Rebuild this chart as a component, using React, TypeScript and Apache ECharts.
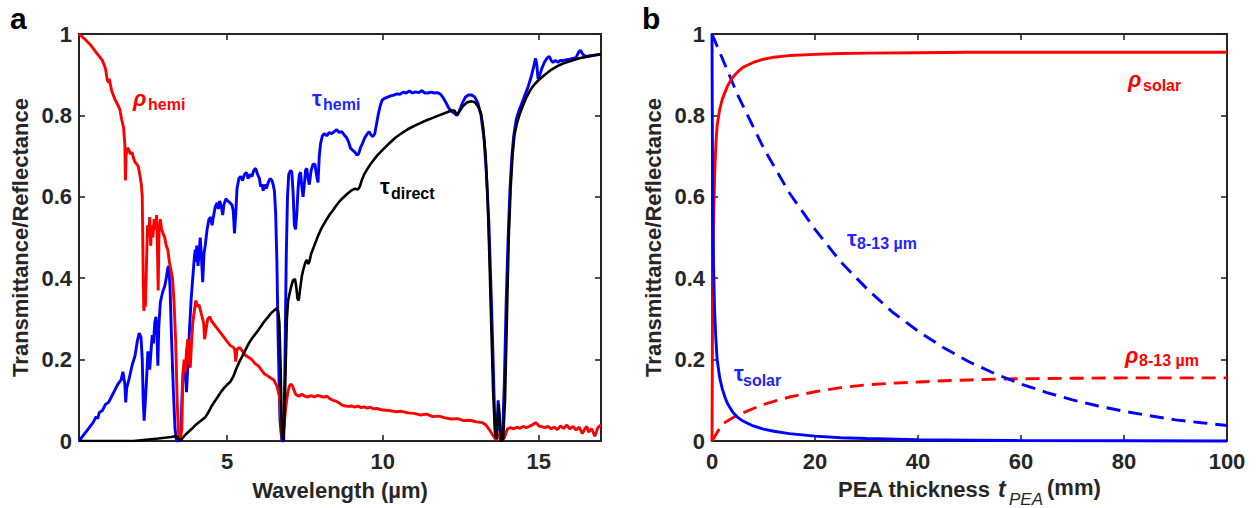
import React, { useEffect, useRef } from "react";
import * as echarts from "echarts";

// ---------- Panel a: spectra (wavelength µm, value) ----------
const wlTicks = [5, 10, 15];
const yTicks = [0, 0.2, 0.4, 0.6, 0.8, 1];
const thickTicks = [0, 20, 40, 60, 80, 100];

const rhoHemi: [number, number][] = [
  [0.25, 1.0], [0.4, 0.99], [0.6, 0.975], [0.8, 0.955], [0.9, 0.945], [0.95, 0.94], [1.0, 0.935],
  [1.1, 0.915], [1.15, 0.89], [1.2, 0.88], [1.22, 0.89], [1.3, 0.86], [1.4, 0.84], [1.5, 0.825],
  [1.56, 0.815], [1.62, 0.79], [1.68, 0.77], [1.72, 0.73], [1.74, 0.64], [1.76, 0.7], [1.8, 0.72],
  [1.85, 0.715], [1.9, 0.705], [1.95, 0.71], [2.0, 0.695], [2.05, 0.685], [2.1, 0.68], [2.15, 0.675],
  [2.2, 0.655], [2.25, 0.63], [2.28, 0.6], [2.31, 0.4], [2.33, 0.32], [2.36, 0.34], [2.38, 0.33],
  [2.42, 0.45], [2.45, 0.53], [2.48, 0.5], [2.52, 0.55], [2.55, 0.48], [2.58, 0.53], [2.62, 0.5],
  [2.66, 0.545], [2.7, 0.52], [2.74, 0.555], [2.77, 0.46], [2.79, 0.37], [2.82, 0.52], [2.86, 0.545],
  [2.9, 0.52], [2.95, 0.51], [3.0, 0.5], [3.05, 0.48], [3.1, 0.47], [3.15, 0.44], [3.2, 0.42],
  [3.25, 0.4], [3.3, 0.34], [3.35, 0.25], [3.4, 0.1], [3.44, 0.02], [3.5, 0.005], [3.55, 0.03],
  [3.58, 0.15], [3.62, 0.2], [3.66, 0.17], [3.7, 0.22], [3.74, 0.25], [3.78, 0.2], [3.82, 0.18],
  [3.86, 0.24], [3.9, 0.29], [3.95, 0.32], [4.0, 0.345], [4.05, 0.33], [4.1, 0.335], [4.15, 0.32],
  [4.2, 0.305], [4.25, 0.29], [4.28, 0.25], [4.32, 0.27], [4.38, 0.3], [4.45, 0.305], [4.5, 0.295],
  [4.6, 0.285], [4.7, 0.275], [4.8, 0.265], [4.9, 0.255], [5.0, 0.245], [5.1, 0.235], [5.2, 0.23],
  [5.25, 0.225], [5.28, 0.195], [5.32, 0.225], [5.4, 0.23], [5.5, 0.22], [5.6, 0.21], [5.7, 0.205],
  [5.8, 0.2], [5.9, 0.19], [6.0, 0.185], [6.1, 0.175], [6.2, 0.165], [6.3, 0.16], [6.4, 0.155],
  [6.5, 0.15], [6.6, 0.135], [6.68, 0.11], [6.74, 0.04], [6.78, 0.0], [6.82, 0.03], [6.88, 0.08],
  [6.95, 0.12], [7.0, 0.135], [7.05, 0.14], [7.1, 0.135], [7.15, 0.125], [7.2, 0.115], [7.3, 0.11],
  [7.4, 0.115], [7.5, 0.11], [7.6, 0.108], [7.7, 0.112], [7.8, 0.108], [7.9, 0.112], [8.0, 0.11],
  [8.1, 0.108], [8.2, 0.11], [8.3, 0.104], [8.4, 0.1], [8.5, 0.098], [8.6, 0.093], [8.7, 0.088],
  [8.8, 0.086], [8.9, 0.085], [9.0, 0.086], [9.1, 0.083], [9.2, 0.086], [9.3, 0.082], [9.4, 0.084],
  [9.5, 0.081], [9.6, 0.083], [9.7, 0.079], [9.8, 0.08], [9.9, 0.078], [10.0, 0.076], [10.2, 0.075],
  [10.4, 0.072], [10.6, 0.073], [10.8, 0.069], [11.0, 0.068], [11.2, 0.064], [11.4, 0.066],
  [11.6, 0.06], [11.8, 0.061], [12.0, 0.057], [12.2, 0.054], [12.4, 0.055], [12.6, 0.05],
  [12.8, 0.051], [13.0, 0.047], [13.2, 0.045], [13.3, 0.04], [13.4, 0.03], [13.5, 0.018],
  [13.6, 0.006], [13.65, 0.004], [13.7, 0.012], [13.75, 0.02], [13.8, 0.012], [13.85, 0.004],
  [13.9, 0.008], [13.95, 0.02], [14.0, 0.03], [14.1, 0.033], [14.2, 0.03], [14.3, 0.034],
  [14.4, 0.031], [14.5, 0.036], [14.6, 0.033], [14.7, 0.036], [14.8, 0.04], [14.9, 0.045],
  [14.95, 0.042], [15.0, 0.037], [15.1, 0.035], [15.2, 0.033], [15.3, 0.036], [15.4, 0.03],
  [15.5, 0.034], [15.6, 0.028], [15.7, 0.037], [15.8, 0.031], [15.9, 0.039], [16.0, 0.03],
  [16.1, 0.036], [16.2, 0.027], [16.3, 0.034], [16.4, 0.018], [16.5, 0.032], [16.55, 0.035],
  [16.6, 0.022], [16.7, 0.03], [16.8, 0.012], [16.85, 0.022], [16.9, 0.033], [17.0, 0.04],
];

const tauHemi: [number, number][] = [
  [0.25, 0], [0.4, 0.015], [0.55, 0.03], [0.7, 0.045], [0.8, 0.06], [0.85, 0.055], [0.9, 0.07],
  [1.0, 0.075], [1.1, 0.09], [1.2, 0.095], [1.3, 0.11], [1.4, 0.125], [1.5, 0.14], [1.6, 0.15],
  [1.66, 0.17], [1.72, 0.14], [1.75, 0.095], [1.78, 0.13], [1.85, 0.15], [1.95, 0.185], [2.05, 0.21],
  [2.12, 0.245], [2.18, 0.265], [2.24, 0.255], [2.28, 0.2], [2.31, 0.1], [2.34, 0.05], [2.38, 0.1],
  [2.42, 0.155], [2.46, 0.22], [2.5, 0.21], [2.52, 0.175], [2.56, 0.22], [2.6, 0.26], [2.64, 0.24],
  [2.68, 0.29], [2.72, 0.305], [2.75, 0.27], [2.78, 0.185], [2.81, 0.28], [2.86, 0.34], [2.9, 0.355],
  [2.95, 0.37], [3.0, 0.38], [3.05, 0.4], [3.1, 0.425], [3.13, 0.43], [3.17, 0.38], [3.22, 0.25],
  [3.28, 0.12], [3.33, 0.03], [3.38, 0.0], [3.46, 0.0], [3.52, 0.02], [3.56, 0.12], [3.6, 0.18],
  [3.65, 0.19], [3.7, 0.12], [3.75, 0.2], [3.8, 0.28], [3.85, 0.35], [3.9, 0.4], [3.95, 0.45],
  [3.98, 0.47], [4.0, 0.44], [4.03, 0.48], [4.07, 0.43], [4.1, 0.46], [4.14, 0.5], [4.18, 0.45],
  [4.22, 0.39], [4.26, 0.46], [4.3, 0.48], [4.36, 0.52], [4.42, 0.545], [4.48, 0.55], [4.52, 0.53],
  [4.56, 0.55], [4.62, 0.575], [4.68, 0.585], [4.72, 0.57], [4.76, 0.59], [4.82, 0.575],
  [4.86, 0.555], [4.9, 0.58], [4.96, 0.595], [5.02, 0.59], [5.1, 0.585], [5.16, 0.58], [5.2, 0.565],
  [5.24, 0.51], [5.28, 0.56], [5.32, 0.62], [5.38, 0.645], [5.44, 0.65], [5.5, 0.64], [5.56, 0.655],
  [5.62, 0.66], [5.68, 0.645], [5.74, 0.655], [5.8, 0.65], [5.86, 0.665], [5.92, 0.67], [5.98, 0.655],
  [6.04, 0.645], [6.08, 0.625], [6.12, 0.63], [6.16, 0.615], [6.2, 0.63], [6.26, 0.62], [6.32, 0.635],
  [6.38, 0.645], [6.44, 0.64], [6.48, 0.63], [6.52, 0.615], [6.56, 0.56], [6.6, 0.44], [6.64, 0.25],
  [6.7, 0.05], [6.76, 0.0], [6.82, 0.0], [6.86, 0.2], [6.9, 0.45], [6.94, 0.6], [6.98, 0.655],
  [7.04, 0.665], [7.08, 0.66], [7.12, 0.61], [7.16, 0.53], [7.2, 0.52], [7.24, 0.56], [7.28, 0.62],
  [7.32, 0.655], [7.36, 0.66], [7.4, 0.625], [7.44, 0.6], [7.48, 0.63], [7.52, 0.665], [7.56, 0.67],
  [7.6, 0.645], [7.64, 0.63], [7.7, 0.665], [7.76, 0.68], [7.82, 0.68], [7.88, 0.65], [7.92, 0.635],
  [7.96, 0.7], [8.0, 0.73], [8.06, 0.75], [8.12, 0.755], [8.2, 0.75], [8.28, 0.758], [8.36, 0.755],
  [8.44, 0.76], [8.52, 0.765], [8.6, 0.758], [8.68, 0.76], [8.76, 0.752], [8.84, 0.745], [8.9, 0.735],
  [8.96, 0.72], [9.02, 0.715], [9.1, 0.71], [9.16, 0.703], [9.22, 0.705], [9.28, 0.72], [9.34, 0.73],
  [9.42, 0.745], [9.5, 0.755], [9.56, 0.76], [9.62, 0.752], [9.68, 0.748], [9.74, 0.755], [9.8, 0.78],
  [9.86, 0.805], [9.92, 0.825], [9.98, 0.838], [10.06, 0.842], [10.15, 0.845], [10.25, 0.848],
  [10.35, 0.85], [10.45, 0.853], [10.55, 0.852], [10.65, 0.857], [10.75, 0.855], [10.85, 0.86],
  [10.95, 0.855], [11.05, 0.858], [11.15, 0.856], [11.25, 0.861], [11.35, 0.855], [11.45, 0.855],
  [11.55, 0.857], [11.65, 0.855], [11.75, 0.856], [11.85, 0.852], [11.92, 0.845], [12.0, 0.835],
  [12.1, 0.82], [12.2, 0.81], [12.3, 0.805], [12.38, 0.8], [12.45, 0.81], [12.55, 0.83], [12.65, 0.845],
  [12.75, 0.85], [12.85, 0.85], [12.95, 0.845], [13.05, 0.83], [13.15, 0.8], [13.25, 0.74], [13.32, 0.66],
  [13.4, 0.54], [13.46, 0.4], [13.52, 0.25], [13.58, 0.08], [13.62, 0.01], [13.66, 0.03], [13.7, 0.1],
  [13.74, 0.04], [13.78, 0.0], [13.84, 0.01], [13.9, 0.15], [13.96, 0.35], [14.02, 0.5], [14.08, 0.62],
  [14.14, 0.7], [14.2, 0.75], [14.28, 0.79], [14.36, 0.81], [14.46, 0.83], [14.56, 0.85], [14.66, 0.87],
  [14.76, 0.895], [14.84, 0.92], [14.9, 0.94], [14.94, 0.925], [14.98, 0.89], [15.04, 0.9], [15.1, 0.915],
  [15.18, 0.93], [15.26, 0.94], [15.34, 0.945], [15.4, 0.935], [15.46, 0.93], [15.54, 0.935],
  [15.62, 0.93], [15.7, 0.935], [15.8, 0.935], [15.9, 0.937], [16.0, 0.938], [16.1, 0.94], [16.2, 0.942],
  [16.28, 0.955], [16.34, 0.96], [16.4, 0.952], [16.48, 0.945], [16.6, 0.946], [16.8, 0.948], [17.0, 0.95],
];

const tauDirect: [number, number][] = [
  [0.25, 0], [2.0, 0], [2.4, 0.003], [2.8, 0.006], [3.2, 0.01], [3.38, 0.012], [3.46, 0.004],
  [3.52, 0.002], [3.6, 0.01], [3.7, 0.018], [3.8, 0.025], [3.9, 0.032], [4.0, 0.04], [4.1, 0.046],
  [4.2, 0.052], [4.3, 0.058], [4.4, 0.07], [4.5, 0.085], [4.6, 0.097], [4.7, 0.108], [4.8, 0.12],
  [4.9, 0.13], [5.0, 0.138], [5.1, 0.145], [5.2, 0.158], [5.3, 0.178], [5.4, 0.195], [5.5, 0.21],
  [5.6, 0.225], [5.7, 0.24], [5.8, 0.252], [5.9, 0.262], [6.0, 0.272], [6.1, 0.283], [6.2, 0.294],
  [6.3, 0.303], [6.4, 0.313], [6.5, 0.32], [6.58, 0.326], [6.64, 0.32], [6.68, 0.29], [6.72, 0.18],
  [6.76, 0.02], [6.8, 0.0], [6.84, 0.05], [6.88, 0.18], [6.92, 0.3], [6.96, 0.345], [7.0, 0.36],
  [7.06, 0.38], [7.12, 0.395], [7.18, 0.398], [7.22, 0.38], [7.26, 0.35], [7.3, 0.345], [7.34, 0.37],
  [7.4, 0.405], [7.46, 0.425], [7.52, 0.44], [7.56, 0.445], [7.6, 0.435], [7.64, 0.44], [7.7, 0.46],
  [7.8, 0.48], [7.9, 0.5], [8.0, 0.518], [8.1, 0.532], [8.2, 0.545], [8.3, 0.557], [8.4, 0.567],
  [8.5, 0.578], [8.6, 0.588], [8.7, 0.596], [8.8, 0.603], [8.9, 0.61], [9.0, 0.616], [9.1, 0.62],
  [9.2, 0.618], [9.26, 0.625], [9.32, 0.64], [9.4, 0.655], [9.5, 0.668], [9.6, 0.68], [9.7, 0.69],
  [9.8, 0.7], [9.9, 0.708], [10.0, 0.716], [10.2, 0.731], [10.4, 0.745], [10.6, 0.756], [10.8, 0.766],
  [11.0, 0.774], [11.2, 0.781], [11.4, 0.788], [11.6, 0.794], [11.8, 0.8], [12.0, 0.806], [12.2, 0.812],
  [12.3, 0.812], [12.38, 0.8], [12.46, 0.81], [12.56, 0.822], [12.7, 0.832], [12.85, 0.835],
  [12.95, 0.832], [13.05, 0.823], [13.15, 0.805], [13.22, 0.77], [13.3, 0.7], [13.36, 0.6], [13.42, 0.45],
  [13.48, 0.28], [13.54, 0.12], [13.6, 0.02], [13.64, 0.005], [13.68, 0.05], [13.72, 0.09], [13.76, 0.04],
  [13.8, 0.0], [13.86, 0.005], [13.92, 0.1], [13.98, 0.3], [14.04, 0.5], [14.1, 0.62], [14.16, 0.7],
  [14.22, 0.75], [14.3, 0.78], [14.4, 0.805], [14.5, 0.825], [14.6, 0.843], [14.7, 0.858], [14.8, 0.87],
  [14.9, 0.879], [15.0, 0.887], [15.2, 0.9], [15.4, 0.912], [15.6, 0.921], [15.8, 0.928], [16.0, 0.933],
  [16.2, 0.938], [16.4, 0.942], [16.6, 0.945], [16.8, 0.948], [17.0, 0.951],
];

// ---------- Panel b: vs PEA thickness (mm) ----------
const rhoSolar: [number, number][] = [
  [0, 0], [0.1, 0.3], [0.25, 0.5], [0.5, 0.65], [0.75, 0.73], [1, 0.775], [1.5, 0.815], [2, 0.84],
  [3, 0.872], [4, 0.893], [5, 0.907], [6, 0.918], [8, 0.93], [10, 0.938], [12, 0.943], [15, 0.947],
  [20, 0.95], [25, 0.952], [30, 0.953], [40, 0.954], [50, 0.955], [60, 0.955], [80, 0.955], [100, 0.955],
];
const tauSolar: [number, number][] = [
  [0, 1], [0.05, 0.82], [0.1, 0.68], [0.2, 0.52], [0.3, 0.43], [0.5, 0.32], [0.75, 0.25], [1, 0.2],
  [1.5, 0.155], [2, 0.128], [2.5, 0.108], [3, 0.092], [4, 0.071], [5, 0.058], [6, 0.049], [8, 0.037],
  [10, 0.029], [12, 0.024], [15, 0.018], [20, 0.012], [25, 0.008], [30, 0.006], [40, 0.003],
  [50, 0.002], [60, 0.001], [80, 0.0005], [100, 0],
];
const tau813: [number, number][] = [
  [0, 1], [5, 0.85], [10, 0.72], [15, 0.61], [20, 0.52], [25, 0.44], [30, 0.375], [35, 0.317],
  [40, 0.27], [45, 0.229], [50, 0.194], [55, 0.165], [60, 0.14], [65, 0.119], [70, 0.101],
  [75, 0.086], [80, 0.073], [85, 0.062], [90, 0.052], [95, 0.045], [100, 0.038],
];
const rho813: [number, number][] = [
  [0, 0], [2, 0.042], [5, 0.064], [10, 0.09], [15, 0.108], [20, 0.121], [25, 0.131], [30, 0.138],
  [35, 0.142], [40, 0.145], [45, 0.148], [50, 0.15], [55, 0.152], [60, 0.153], [70, 0.154],
  [80, 0.155], [90, 0.155], [100, 0.155],
];

const RED = "#ff0000";
const BLUE = "#0000ff";
const LBLUE = "#2424ff";
const AX = "#262626";
const FONT = "'Liberation Sans', Arial, Helvetica, sans-serif";

function boxAxis(gridIndex: number, pos: string, extra: any) {
  return {
    type: "value",
    gridIndex,
    position: pos,
    axisLine: { show: true, onZero: false, lineStyle: { color: AX, width: 2 } },
    axisTick: { show: true, inside: true, length: 6, lineStyle: { color: AX, width: 1.6 } },
    splitLine: { show: false },
    axisLabel: { show: false },
    ...extra,
  };
}

const labelStyle = { fontFamily: FONT, fontSize: 22, fontWeight: "bold", color: AX };

function txt(x: number, y: number, text: string, size: number, color: string, opts: any = {}) {
  return {
    type: "text",
    x,
    y,
    silent: true,
    style: {
      text,
      fill: color,
      fontFamily: FONT,
      fontSize: size,
      fontWeight: "bold",
      align: "left",
      verticalAlign: "middle",
      ...opts,
    },
  };
}

export default function App() {
  const ref = useRef<HTMLDivElement>(null);
  useEffect(() => {
    if (!ref.current) return;
    const chart = echarts.init(ref.current, undefined, { renderer: "svg" });
    const option: any = {
      animation: false,
      backgroundColor: "#ffffff",
      grid: [
        { left: 79, top: 34, width: 522, height: 407 },
        { left: 712, top: 34, width: 515, height: 407 },
      ],
      xAxis: [
        boxAxis(0, "bottom", {
          min: 0.25,
          max: 17,
          axisTick: { show: true, inside: true, length: 6, customValues: wlTicks, lineStyle: { color: AX, width: 1.6 } },
          axisLabel: { show: true, customValues: wlTicks, margin: 9, ...labelStyle },
          name: "Wavelength (µm)",
          nameLocation: "middle",
          nameGap: 38,
          nameTextStyle: { ...labelStyle },
        }),
        boxAxis(0, "top", {
          min: 0.25,
          max: 17,
          axisTick: { show: true, inside: true, length: 6, customValues: wlTicks, lineStyle: { color: AX, width: 1.6 } },
        }),
        boxAxis(1, "bottom", {
          min: 0,
          max: 100,
          interval: 20,
          axisLabel: {
            show: true,
            margin: 9,
            customValues: thickTicks,
            ...labelStyle,
          },
        }),
        boxAxis(1, "top", { min: 0, max: 100, interval: 20 }),
      ],
      yAxis: [
        boxAxis(0, "left", {
          min: 0,
          max: 1,
          interval: 0.2,
          axisLabel: { show: true, margin: 7, customValues: yTicks, ...labelStyle },
          name: "Transmittance/Reflectance",
          nameLocation: "middle",
          nameGap: 48,
          nameTextStyle: { ...labelStyle },
        }),
        boxAxis(0, "right", { min: 0, max: 1, interval: 0.2 }),
        boxAxis(1, "left", {
          min: 0,
          max: 1,
          interval: 0.2,
          axisLabel: { show: true, margin: 7, customValues: yTicks, ...labelStyle },
          name: "Transmittance/Reflectance",
          nameLocation: "middle",
          nameGap: 48,
          nameTextStyle: { ...labelStyle },
        }),
        boxAxis(1, "right", { min: 0, max: 1, interval: 0.2 }),
      ],
      series: [
        {
          type: "line", xAxisIndex: 0, yAxisIndex: 0, data: tauHemi, showSymbol: false, symbol: "none",
          lineStyle: { color: BLUE, width: 2.9 }, clip: true,
        },
        {
          type: "line", xAxisIndex: 0, yAxisIndex: 0, data: rhoHemi, showSymbol: false, symbol: "none",
          lineStyle: { color: RED, width: 2.9 }, clip: true,
        },
        {
          type: "line", xAxisIndex: 0, yAxisIndex: 0, data: tauDirect, showSymbol: false, symbol: "none",
          lineStyle: { color: "#000000", width: 2.6 }, clip: true,
        },
        {
          type: "line", xAxisIndex: 2, yAxisIndex: 2, data: rho813, showSymbol: false, symbol: "none",
          lineStyle: { color: RED, width: 2.9, type: [14, 8] }, clip: false,
        },
        {
          type: "line", xAxisIndex: 2, yAxisIndex: 2, data: tau813, showSymbol: false, symbol: "none",
          lineStyle: { color: BLUE, width: 2.9, type: [14, 8] }, clip: false,
        },
        {
          type: "line", xAxisIndex: 2, yAxisIndex: 2, data: rhoSolar, showSymbol: false, symbol: "none",
          lineStyle: { color: RED, width: 2.9 }, clip: false,
        },
        {
          type: "line", xAxisIndex: 2, yAxisIndex: 2, data: tauSolar, showSymbol: false, symbol: "none",
          lineStyle: { color: BLUE, width: 2.9 }, clip: false,
        },
      ],
      graphic: [
        txt(10, 18, "a", 30, "#000000"),
        txt(642, 18, "b", 30, "#000000"),
        // panel a labels
        txt(133, 98, "ρ", 22, RED, { fontStyle: "italic" }),
        txt(148, 104, "hemi", 16, RED),
        txt(312, 98, "τ", 22, LBLUE),
        txt(323, 104, "hemi", 16, LBLUE),
        txt(380, 186, "τ", 22, "#000000"),
        txt(391, 193, "direct", 16, "#000000"),
        // panel b labels
        txt(1128, 79, "ρ", 22, RED, { fontStyle: "italic" }),
        txt(1143, 85, "solar", 16, RED),
        txt(847, 238, "τ", 22, LBLUE),
        txt(857, 243, "8-13 µm", 16, LBLUE),
        txt(1125, 355, "ρ", 22, RED, { fontStyle: "italic" }),
        txt(1139, 360, "8-13 µm", 16, RED),
        txt(734, 373, "τ", 22, LBLUE),
        txt(743, 380, "solar", 16, LBLUE),
        // panel b x title
        txt(838, 489, "PEA thickness", 22, AX),
        txt(998, 489, "t", 23, AX, { fontStyle: "italic" }),
        txt(1009, 499, "PEA", 17, AX, { fontStyle: "italic", fontWeight: "normal" }),
        txt(1047, 487, "(mm)", 22, AX),
      ],
    };
    chart.setOption(option);
    return () => chart.dispose();
  }, []);
  return (
    <div
      ref={ref}
      style={{ position: "fixed", left: 0, top: 0, width: 1257, height: 508, background: "#fff" }}
    />
  );
}
